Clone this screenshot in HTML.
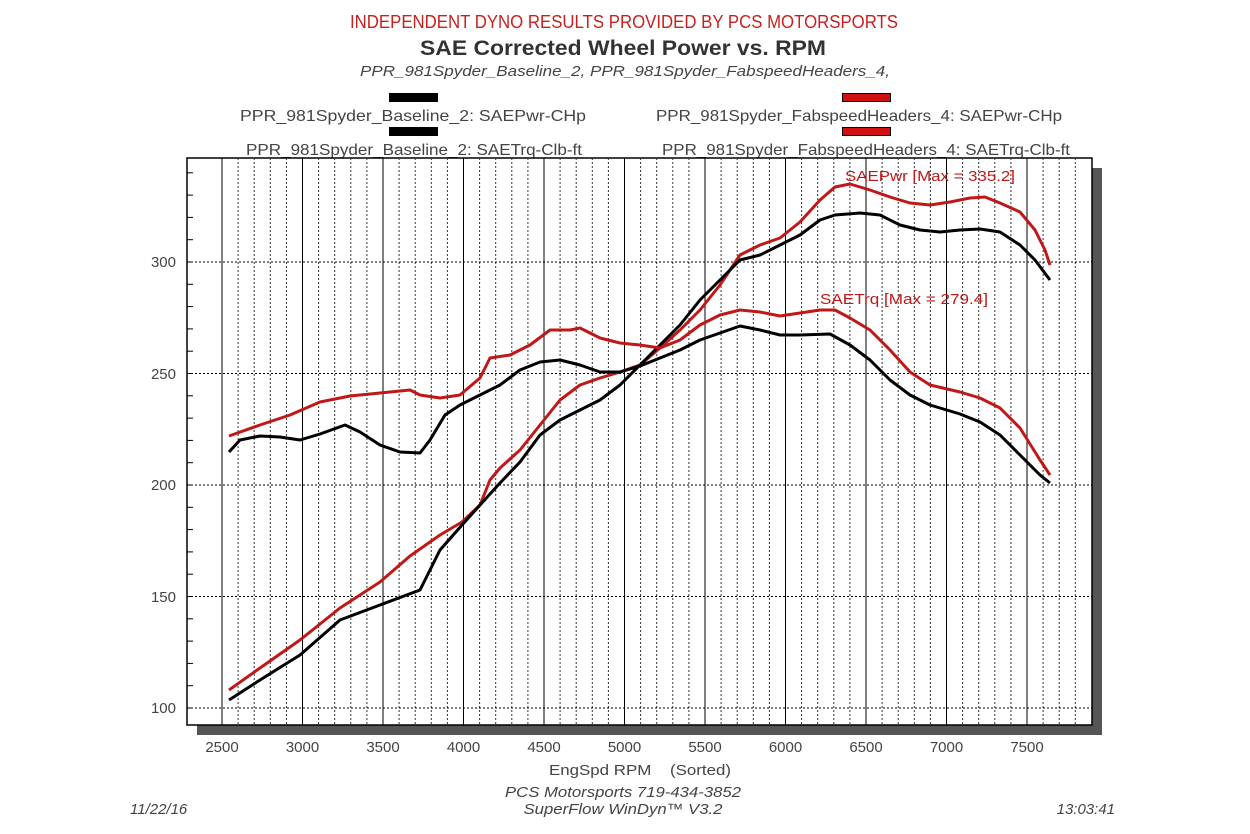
<!DOCTYPE html>
<html><head><meta charset="utf-8"><style>body{margin:0;background:#fff}svg{display:block}text{font-family:"Liberation Sans",sans-serif}</style></head><body>
<svg width="1250" height="834" xmlns="http://www.w3.org/2000/svg">
<text x="624" y="28" text-anchor="middle" fill="#c8201e" font-size="18" textLength="548" lengthAdjust="spacingAndGlyphs">INDEPENDENT DYNO RESULTS PROVIDED BY PCS MOTORSPORTS</text>
<text x="623" y="55" text-anchor="middle" fill="#333" font-size="21" font-weight="bold" textLength="406" lengthAdjust="spacingAndGlyphs">SAE Corrected Wheel Power vs. RPM</text>
<text x="625" y="76" text-anchor="middle" fill="#444" font-size="15" font-style="italic" textLength="530" lengthAdjust="spacingAndGlyphs">PPR_981Spyder_Baseline_2, PPR_981Spyder_FabspeedHeaders_4,</text>
<rect x="389" y="93" width="49" height="9" fill="#000"/>
<rect x="842.5" y="93.5" width="48" height="8" fill="#d01010" stroke="#000"/>
<rect x="389" y="127" width="49" height="9" fill="#000"/>
<rect x="842.5" y="127.5" width="48" height="8" fill="#d01010" stroke="#000"/>
<g fill="#444" font-size="16" text-anchor="end" lengthAdjust="spacingAndGlyphs">
<text x="586" y="121" textLength="346" lengthAdjust="spacingAndGlyphs">PPR_981Spyder_Baseline_2: SAEPwr-CHp</text>
<text x="1062" y="121" textLength="406" lengthAdjust="spacingAndGlyphs">PPR_981Spyder_FabspeedHeaders_4: SAEPwr-CHp</text>
<text x="582" y="155" textLength="336" lengthAdjust="spacingAndGlyphs">PPR_981Spyder_Baseline_2: SAETrq-Clb-ft</text>
<text x="1070" y="155" textLength="408" lengthAdjust="spacingAndGlyphs">PPR_981Spyder_FabspeedHeaders_4: SAETrq-Clb-ft</text>
</g>
<rect x="197" y="725" width="905" height="10" fill="#555"/>
<rect x="1092" y="168" width="10" height="567" fill="#555"/>
<rect x="187" y="158" width="905" height="567" fill="#fff" stroke="#000" stroke-width="1.5"/>
<g id="grid"></g>
<g fill="#444" font-size="15" text-anchor="end">
<text x="176" y="267">300</text><text x="176" y="379">250</text><text x="176" y="490">200</text><text x="176" y="602">150</text><text x="176" y="713">100</text>
</g>
<g fill="#444" font-size="15" text-anchor="middle" id="xl"></g>
<text x="549" y="775" fill="#444" font-size="15" textLength="182" lengthAdjust="spacingAndGlyphs">EngSpd RPM &#160;&#160;&#160;(Sorted)</text>
<g fill="#444" font-size="15" font-style="italic">
<text x="623" y="797" text-anchor="middle" textLength="236" lengthAdjust="spacingAndGlyphs">PCS Motorsports 719-434-3852</text>
<text x="623" y="814" text-anchor="middle" textLength="199" lengthAdjust="spacingAndGlyphs">SuperFlow WinDyn™ V3.2</text>
<text x="130" y="814">11/22/16</text>
<text x="1115" y="814" text-anchor="end">13:03:41</text>
</g>
<g fill="none" stroke-width="3" stroke-linejoin="round">
<polyline stroke="#c01818" points="229,690 260,668 300,640 340,608 380,582 410,556 440,535 462,522 480,505 490,480 500,468 520,450 540,425 560,400 580,385 600,378 620,372 640,365 660,348 680,330 700,310 720,285 740,255 760,245 780,238 800,222 820,200 835,187 850,184 870,190 890,197 910,203 930,205 950,202 970,198 985,197 1000,203 1020,212 1035,230 1045,250 1050,265"/>
<polyline stroke="#000" points="229,700 260,680 300,655 340,620 380,605 420,590 430,570 440,550 462,525 480,505 500,483 520,462 540,435 560,420 580,410 600,400 620,385 640,365 660,345 680,325 700,300 720,280 740,260 760,255 780,245 800,235 820,220 835,215 860,213 880,215 900,225 920,230 940,232 960,230 980,229 1000,232 1020,245 1035,260 1050,280"/>
<polyline stroke="#c01818" points="229,436 260,425 290,415 320,402 350,396 380,393 410,390 420,395 440,398 460,395 480,378 490,358 510,355 530,345 550,330 570,330 580,328 600,338 620,343 640,345 660,348 680,340 700,325 720,315 740,310 760,312 780,316 800,313 820,310 835,310 850,318 870,330 890,350 910,372 930,385 960,392 980,398 1000,408 1020,428 1040,460 1050,475"/>
<polyline stroke="#000" points="229,452 240,440 260,436 280,437 300,440 320,434 345,425 360,432 380,445 400,452 420,453 430,440 445,415 460,405 480,395 500,385 520,370 540,362 560,360 580,365 600,372 620,372 640,366 660,358 680,350 700,340 720,333 740,326 760,330 780,335 800,335 830,334 850,345 870,360 890,380 910,395 930,405 960,414 980,422 1000,435 1020,455 1040,475 1050,483"/>
</g>
<text x="845" y="181" fill="#c01818" font-size="15" textLength="170" lengthAdjust="spacingAndGlyphs">SAEPwr [Max = 335.2]</text>
<text x="820" y="304" fill="#c01818" font-size="15" textLength="168" lengthAdjust="spacingAndGlyphs">SAETrq [Max = 279.4]</text>
<script>
var g=document.getElementById('grid'),xl=document.getElementById('xl'),ns='http://www.w3.org/2000/svg';
function ln(x1,y1,x2,y2,st,w,da){var l=document.createElementNS(ns,'line');l.setAttribute('x1',x1);l.setAttribute('y1',y1);l.setAttribute('x2',x2);l.setAttribute('y2',y2);l.setAttribute('stroke',st);l.setAttribute('stroke-width',w);if(da)l.setAttribute('stroke-dasharray',da);g.appendChild(l);}
for(var r=2500;r<=7800;r+=100){var x=222+(r-2500)*0.161;if(x>1091)break;if(r%500==0){ln(x,158,x,725,'#000',1);var t=document.createElementNS(ns,'text');t.setAttribute('x',x);t.setAttribute('y',752);t.textContent=r;xl.appendChild(t);}else ln(x,158,x,725,'#333',1,'2,2');}
for(var v=100;v<=350;v+=10){var y=708-(v-100)*2.23;if(y<158)break;if(v%50==0)ln(187,y,1092,y,'#000',1,'2,2');ln(187,y,193,y,'#000',1);}
</script>
</svg>
</body></html>
